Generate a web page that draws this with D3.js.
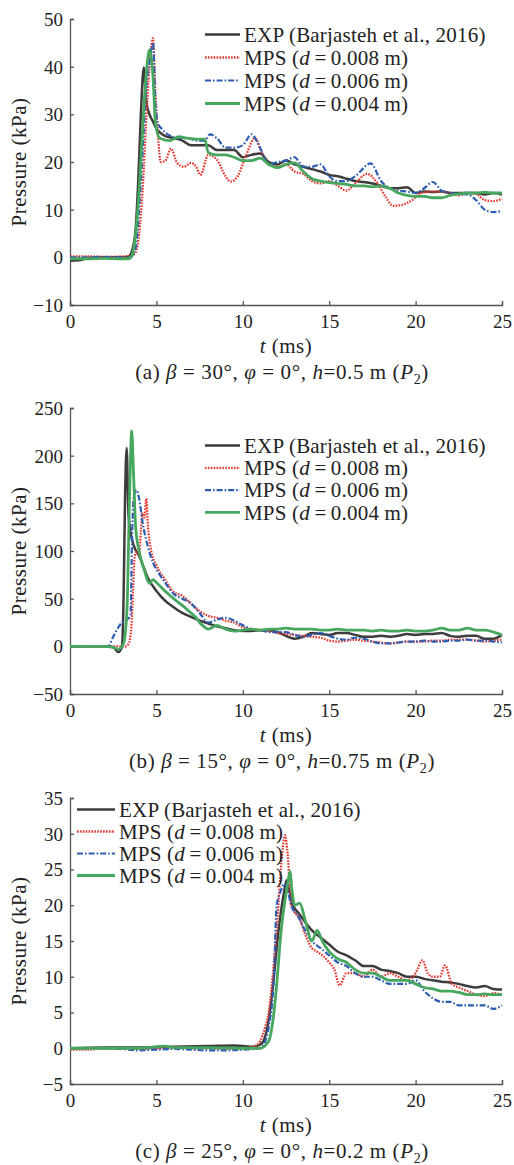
<!DOCTYPE html>
<html>
<head>
<meta charset="utf-8">
<script src="https://cdn.jsdelivr.net/npm/d3@7"></script>
<style>
  body { margin: 0; background: #fff; }
  svg text { font-family: "Liberation Serif", "Times New Roman", serif; fill: #222; }
</style>
</head>
<body>
<svg id="chart" width="514" height="1165"></svg>
<script>
// ---- data: [t (ms), pressure (kPa)] ----
const xTicks = [0, 5, 10, 15, 20, 25];

// (a) beta = 30
const aYTicks = [-10, 0, 10, 20, 30, 40, 50];
const aExp = [[0,-0.7],[0.5,-0.6],[1,-0.2],[1.5,0],[2,0],[2.5,0],[3,0],[3.4,0.2],[3.6,1.5],[3.8,6],[3.95,16],[4.1,30],[4.27,39.8],[4.4,33],[4.6,30],[4.8,28.5],[5,27],[5.5,25.5],[6,25],[6.5,24.5],[7,23.5],[7.5,23.5],[8,23.5],[8.5,22.5],[9,22.5],[9.5,22.5],[10,21],[10.5,21.5],[11,21.8],[11.5,20],[12,19.5],[12.5,20.3],[13,19.5],[13.5,19],[14,18.5],[14.5,18],[15,17.3],[15.5,17],[16,16.5],[16.5,16],[17,15.8],[17.5,15.5],[18,15],[18.5,14.5],[19,14.5],[19.5,14.7],[20,13.5],[20.5,13.8],[21,13.7],[21.5,13.8],[22,13.5],[22.5,13.5],[23,13.5],[23.5,13.5],[24,13.2],[24.5,13.5],[25,13.2]];
const aD008 = [[0,0.2],[1,0.2],[2,0.1],[3,0.2],[3.5,0.3],[3.8,1],[4.0,5],[4.2,14],[4.4,28],[4.6,40],[4.8,46],[4.95,34],[5.1,25],[5.25,20],[5.5,20.2],[5.85,22.8],[6.2,19.8],[6.6,19],[7.0,19.8],[7.3,19],[7.55,17.3],[8.0,21.5],[8.5,20.5],[9.0,17],[9.3,15.9],[9.7,17],[10.2,21.5],[10.7,25],[11.1,22],[11.5,19.5],[12,19],[12.5,19.5],[13,18],[13.5,17.5],[14,16],[14.5,15.5],[15,16],[15.5,15],[16,14],[16.5,15.5],[17.2,17.5],[17.8,15.5],[18.3,12.5],[18.7,10.8],[19.2,11],[19.8,12],[20.3,13.5],[21,13.8],[21.5,13.8],[22,13.5],[22.5,13],[23,13.5],[23.5,13.3],[24,12],[24.5,11.8],[25,12.3]];
const aD006 = [[0,0],[1,0],[2,0.1],[3,0],[3.5,0],[3.8,2],[4.0,10],[4.2,22],[4.4,35],[4.6,41],[4.8,45],[4.95,32],[5.1,28],[5.3,27],[5.8,25.5],[6.3,25],[6.8,25],[7.3,24.5],[7.8,24.5],[8.1,25.8],[8.5,25],[9,23],[9.5,23],[10,23.5],[10.5,25.8],[11,23],[11.5,19.5],[12,20],[12.5,20.3],[13,21],[13.5,19],[14,19],[14.5,19.5],[15,17],[15.5,16],[16,16],[16.5,17],[17.4,19.7],[18,16],[18.5,14.5],[19,14],[19.5,13.8],[20,13.5],[20.5,14.5],[21,15.8],[21.5,14],[22,13.5],[22.5,13.3],[23,13.2],[23.5,12],[24,10],[24.5,9.5],[25,9.7]];
const aD004 = [[0,-0.3],[1,-0.3],[2,-0.2],[3,-0.3],[3.4,-0.3],[3.6,0.5],[3.8,5],[4.0,14],[4.2,27],[4.4,38],[4.6,43.5],[4.8,38],[4.95,28],[5.2,25],[5.8,24.5],[6.3,25.3],[6.8,25],[7.3,24.8],[7.8,24.8],[8.0,22],[8.5,21.5],[9,21.5],[9.5,21],[10,20.3],[10.5,20.3],[11,20.8],[11.5,19.5],[12,18.8],[12.5,19.5],[13,19.8],[13.5,18],[14,16.5],[14.5,16],[15,15.7],[15.5,15.5],[16,15.3],[16.5,15],[17,15],[17.5,14.8],[18,15],[18.5,14.5],[19,13.5],[19.5,13],[20,12.8],[20.5,12.8],[21,12.5],[21.5,12.5],[22,13],[22.5,13.3],[23,13.5],[23.5,13.5],[24,13.7],[24.5,13.5],[25,13.5]];

// (b) beta = 15
const bYTicks = [-50, 0, 50, 100, 150, 200, 250];
const bExp = [[0,0],[1,0],[2,0],[2.5,-1],[2.8,-6],[3.0,-1],[3.1,50],[3.18,150],[3.28,208],[3.38,140],[3.5,120],[3.7,105],[4.0,95],[4.5,72],[5,58],[5.5,48],[6,41],[6.5,35],[7,31],[7.5,27],[8,24],[8.5,21],[9,19],[9.5,17],[10,16],[10.5,16],[11,17],[11.5,17],[12,15],[12.5,11],[13,8],[13.5,10],[14,14],[14.5,13],[15,12],[15.5,14],[16,14],[16.5,12],[17,10],[17.5,10],[18,11],[18.5,10],[19,11],[19.5,13],[20,12],[20.5,13],[21,13],[21.5,14],[22,11],[22.5,10],[23,11],[23.5,11],[24,8],[24.5,8],[25,12]];
const bD008 = [[0,0],[1,0],[2,0],[2.5,0],[3.2,0],[3.4,3],[3.55,20],[3.65,60],[3.75,95],[3.9,100],[4.0,95],[4.1,120],[4.2,140],[4.3,135],[4.42,155],[4.5,130],[4.7,100],[5,85],[5.5,70],[6,57],[6.5,53],[7,45],[7.5,37],[8,32],[8.5,30],[9,27],[9.5,25],[10,20],[10.5,18],[11,17],[11.5,16],[12,14],[12.5,13],[13,12],[13.5,11],[14,10],[14.5,9],[15,6],[15.5,5],[16,6],[16.5,7],[17,6],[17.5,5],[18,4],[18.5,3],[19,4],[19.5,5],[20,5],[20.5,5],[21,6],[21.5,6],[22,7],[22.5,7],[23,7],[23.5,6],[24,5],[24.5,6],[25,7]];
const bD006 = [[0,0],[1,0],[2,0],[2.2,0],[2.5,10],[2.8,20],[3.0,25],[3.3,28],[3.5,32],[3.6,120],[3.7,158],[3.85,164],[4.0,155],[4.2,130],[4.5,105],[4.8,88],[5.2,75],[5.5,67],[6,55],[6.5,50],[7,45],[7.5,35],[8,25],[8.5,28],[9,30],[9.5,27],[10,22],[10.5,18],[11,17],[11.5,15],[12,15],[12.5,15],[13,12],[13.5,10],[14,12],[14.5,14],[15,11],[15.5,8],[16,7],[16.5,9],[17,8],[17.5,5],[18,3],[18.5,3],[19,4],[19.5,5],[20,5],[20.5,6],[21,5],[21.5,5],[22,6],[22.5,6],[23,7],[23.5,6],[24,6],[24.5,5],[25,4]];
const bD004 = [[0,0],[1,0],[2,0],[2.5,-1],[2.8,-3],[3.1,3],[3.3,40],[3.45,160],[3.57,226],[3.68,180],[3.8,125],[4.0,100],[4.3,80],[4.6,66],[4.8,70],[5.0,67],[5.5,58],[6,50],[6.5,43],[7,35],[7.3,30],[7.5,25],[7.8,20],[8,18],[8.5,22],[9,18],[9.5,16],[10,17],[10.5,18],[11,17],[11.5,18],[12,18],[12.5,19],[13,18],[13.5,18],[14,18],[14.5,17],[15,17],[15.5,18],[16,17],[16.5,17],[17,17],[17.5,16],[18,17],[18.5,16],[19,16],[19.5,17],[20,16],[20.5,16],[21,17],[21.5,19],[22,17],[22.5,17],[23,19],[23.5,17],[24,17],[24.5,15],[25,12]];

// (c) beta = 25
const cYTicks = [-5, 0, 5, 10, 15, 20, 25, 30, 35];
const cExp = [[0,0],[2,0.1],[4,0.1],[6,0.2],[8,0.3],[9.5,0.4],[10.5,0.2],[11,0.5],[11.2,1],[11.5,4],[11.8,10],[12.0,15],[12.2,19],[12.4,22],[12.54,23.5],[12.7,22],[12.9,20],[13.2,19],[13.5,18],[14,16.5],[14.5,15.5],[15,14.5],[15.5,13.5],[16,13],[16.5,12.3],[17,11.5],[17.5,11.5],[18,11],[18.5,10.8],[19,10.5],[19.5,10],[20,10],[20.5,9.7],[21,9.5],[21.5,9.3],[22,9.2],[22.5,9],[23,8.7],[23.5,8.5],[24,8.7],[24.5,8.3],[25,8.2]];
const cD008 = [[0,-0.2],[1,-0.2],[2,0],[3,0],[4,-0.1],[5,0],[6,0.1],[7,0],[8,0],[9,-0.1],[10,0],[10.7,0.3],[11,1],[11.3,3],[11.5,5],[11.8,12],[12.0,18],[12.2,25],[12.44,29.8],[12.6,27],[12.8,20],[13.0,19],[13.3,18],[13.6,16],[14.0,14],[14.3,13.5],[14.6,13],[15,12],[15.3,11],[15.6,8.8],[16,10.5],[16.5,10.5],[17,10],[17.5,11],[18,10],[18.5,10.5],[19,10],[19.5,9.5],[20,10.5],[20.4,12.3],[20.7,10.5],[21,10],[21.4,10],[21.7,11.6],[22.1,9],[22.5,8.5],[23,8],[23.5,7.5],[24,7.3],[24.5,7.7],[25,7.5]];
const cD006 = [[0,0],[1,0],[2,0],[3,-0.1],[4,-0.3],[5,-0.2],[6,-0.1],[7,-0.2],[8,-0.3],[9,-0.3],[10,-0.2],[11,0],[11.3,1],[11.5,3],[11.8,10],[11.96,20],[12.2,22],[12.4,23],[12.6,22],[12.8,20],[13.2,18.5],[13.5,17],[14,15],[14.5,14],[15,13],[15.5,12],[16,11.5],[16.5,10.5],[17,10],[17.5,10],[18,9.5],[18.5,9],[19,9],[19.5,9],[20,9.5],[20.5,8],[21,7],[21.5,6.5],[22,6.5],[22.5,6],[23,6],[23.5,6],[24,6],[24.5,5.5],[25,6]];
const cD004 = [[0,0],[2,0],[4,0],[5.5,0.3],[6,0.1],[8,0.1],[10,0],[11,0],[11.5,1],[11.8,5],[12.0,10],[12.2,16],[12.4,20],[12.6,23],[12.73,24.7],[12.85,22],[13.0,20],[13.3,20.3],[13.6,18],[14,15],[14.3,16.5],[14.6,15],[15,13.5],[15.5,12.5],[16,12],[16.5,11],[17,10.5],[17.5,10.5],[18,10],[18.5,9.5],[19,9.5],[19.5,9.5],[20,9],[20.5,8.5],[21,8.3],[21.5,8],[22,8],[22.5,7.8],[23,7.5],[23.5,7.5],[24,7.6],[24.5,7.5],[25,7.5]];

const seriesNames = ["EXP (Barjasteh et al., 2016)", "MPS (d\u2009=\u20090.008 m)", "MPS (d\u2009=\u20090.006 m)", "MPS (d\u2009=\u20090.004 m)"];

// styles
const styles = [
  { color: "#3d3b3b", width: 2.5, dash: null },
  { color: "#e4372e", width: 2.3, dash: "1.6,1.3" },
  { color: "#2d5db3", width: 2.2, dash: "6,2,1.6,2" },
  { color: "#46a75e", width: 2.8, dash: null }
];

const panels = [
  { top: 19, yTicks: aYTicks, series: [aExp, aD008, aD006, aD004], legend: { x: 205, y: 34.5, gap: 23, len: 35 },
    caption: ["(a) ", "β", " = 30°, ", "φ", " = 0°, ", "h", "=0.5 m (", "P", "2", ")"] },
  { top: 408, yTicks: bYTicks, series: [bExp, bD008, bD006, bD004], legend: { x: 205, y: 445.5, gap: 22.3, len: 35 },
    caption: ["(b) ", "β", " = 15°, ", "φ", " = 0°, ", "h", "=0.75 m (", "P", "2", ")"] },
  { top: 798, yTicks: cYTicks, series: [cExp, cD008, cD006, cD004], legend: { x: 77, y: 809.5, gap: 22, len: 38 },
    caption: ["(c) ", "β", " = 25°, ", "φ", " = 0°, ", "h", "=0.2 m (", "P", "2", ")"] }
];

const left = 70, right = 502, plotH = 286;
const svg = d3.select("#chart");

panels.forEach(p => drawPanel(p));

function drawPanel(p) {
  const x = d3.scaleLinear().domain([0, 25]).range([left, right]);
  const yDom = d3.extent(p.yTicks);
  const y = d3.scaleLinear().domain(yDom).range([p.top + plotH, p.top]);
  const g = svg.append("g");

  // axes, ticks point inward
  const xAxis = g.append("g")
    .attr("transform", `translate(0,${p.top + plotH})`)
    .call(d3.axisBottom(x).tickValues(xTicks).tickSize(-4).tickPadding(9).tickFormat(d3.format("d")));
  const yAxis = g.append("g")
    .attr("transform", `translate(${left},0)`)
    .call(d3.axisLeft(y).tickValues(p.yTicks).tickSize(-4).tickPadding(7).tickFormat(d3.format("d")));
  [xAxis, yAxis].forEach(a => {
    a.attr("font-family", null);
    a.select(".domain").attr("stroke", "#555").attr("stroke-width", 1.3);
    a.selectAll(".tick line").attr("stroke", "#555").attr("stroke-width", 1.3);
    a.selectAll(".tick text").attr("font-size", 19).attr("fill", "#222");
  });
  xAxis.selectAll(".tick text").attr("dy", "0.75em");
  yAxis.selectAll(".tick text").attr("dy", "0.34em");

  // lines
  const line = d3.line().x(d => x(d[0])).y(d => y(d[1])).curve(d3.curveMonotoneX);
  p.series.forEach((s, i) => {
    const st = styles[i];
    g.append("path").datum(s)
      .attr("d", line)
      .attr("fill", "none")
      .attr("stroke", st.color)
      .attr("stroke-width", st.width)
      .attr("stroke-linejoin", "round")
      .attr("stroke-dasharray", st.dash);
  });

  // legend
  const lg = g.append("g");
  seriesNames.forEach((name, i) => {
    const st = styles[i];
    const yy = p.legend.y + i * p.legend.gap;
    lg.append("line")
      .attr("x1", p.legend.x).attr("x2", p.legend.x + p.legend.len)
      .attr("y1", yy).attr("y2", yy)
      .attr("stroke", st.color).attr("stroke-width", st.width)
      .attr("stroke-dasharray", st.dash);
    const t = lg.append("text")
      .attr("x", p.legend.x + p.legend.len + 4).attr("y", yy)
      .attr("dy", "0.35em").attr("font-size", 21).attr("letter-spacing", 0.2);
    if (i === 0) {
      t.text(name);
    } else {
      const parts = name.split("d");
      t.append("tspan").text(parts[0]);
      t.append("tspan").attr("font-style", "italic").text("d");
      t.append("tspan").text(parts[1]);
    }
  });

  // y label
  g.append("text")
    .attr("transform", `translate(19,${p.top + plotH / 2}) rotate(-90)`)
    .attr("text-anchor", "middle").attr("dy", "0.35em")
    .attr("font-size", 21).attr("letter-spacing", 0.5)
    .text("Pressure (kPa)");

  // x label
  const xl = g.append("text")
    .attr("x", (left + right) / 2).attr("y", p.top + plotH + 48)
    .attr("text-anchor", "middle").attr("font-size", 21).attr("letter-spacing", 0.5);
  xl.append("tspan").attr("font-style", "italic").text("t");
  xl.append("tspan").text(" (ms)");

  // caption
  const cap = g.append("text")
    .attr("x", (left + right) / 2 - 4).attr("y", p.top + plotH + 74)
    .attr("text-anchor", "middle").attr("font-size", 21).attr("letter-spacing", 0.6);
  const italic = [1, 3, 5, 7];
  p.caption.forEach((c, i) => {
    const ts = cap.append("tspan").text(c);
    if (italic.includes(i)) ts.attr("font-style", "italic");
    if (i === 8) ts.attr("font-size", 14).attr("dy", 5);
    if (i === 9) ts.attr("dy", -5);
  });
}
</script>
</body>
</html>
